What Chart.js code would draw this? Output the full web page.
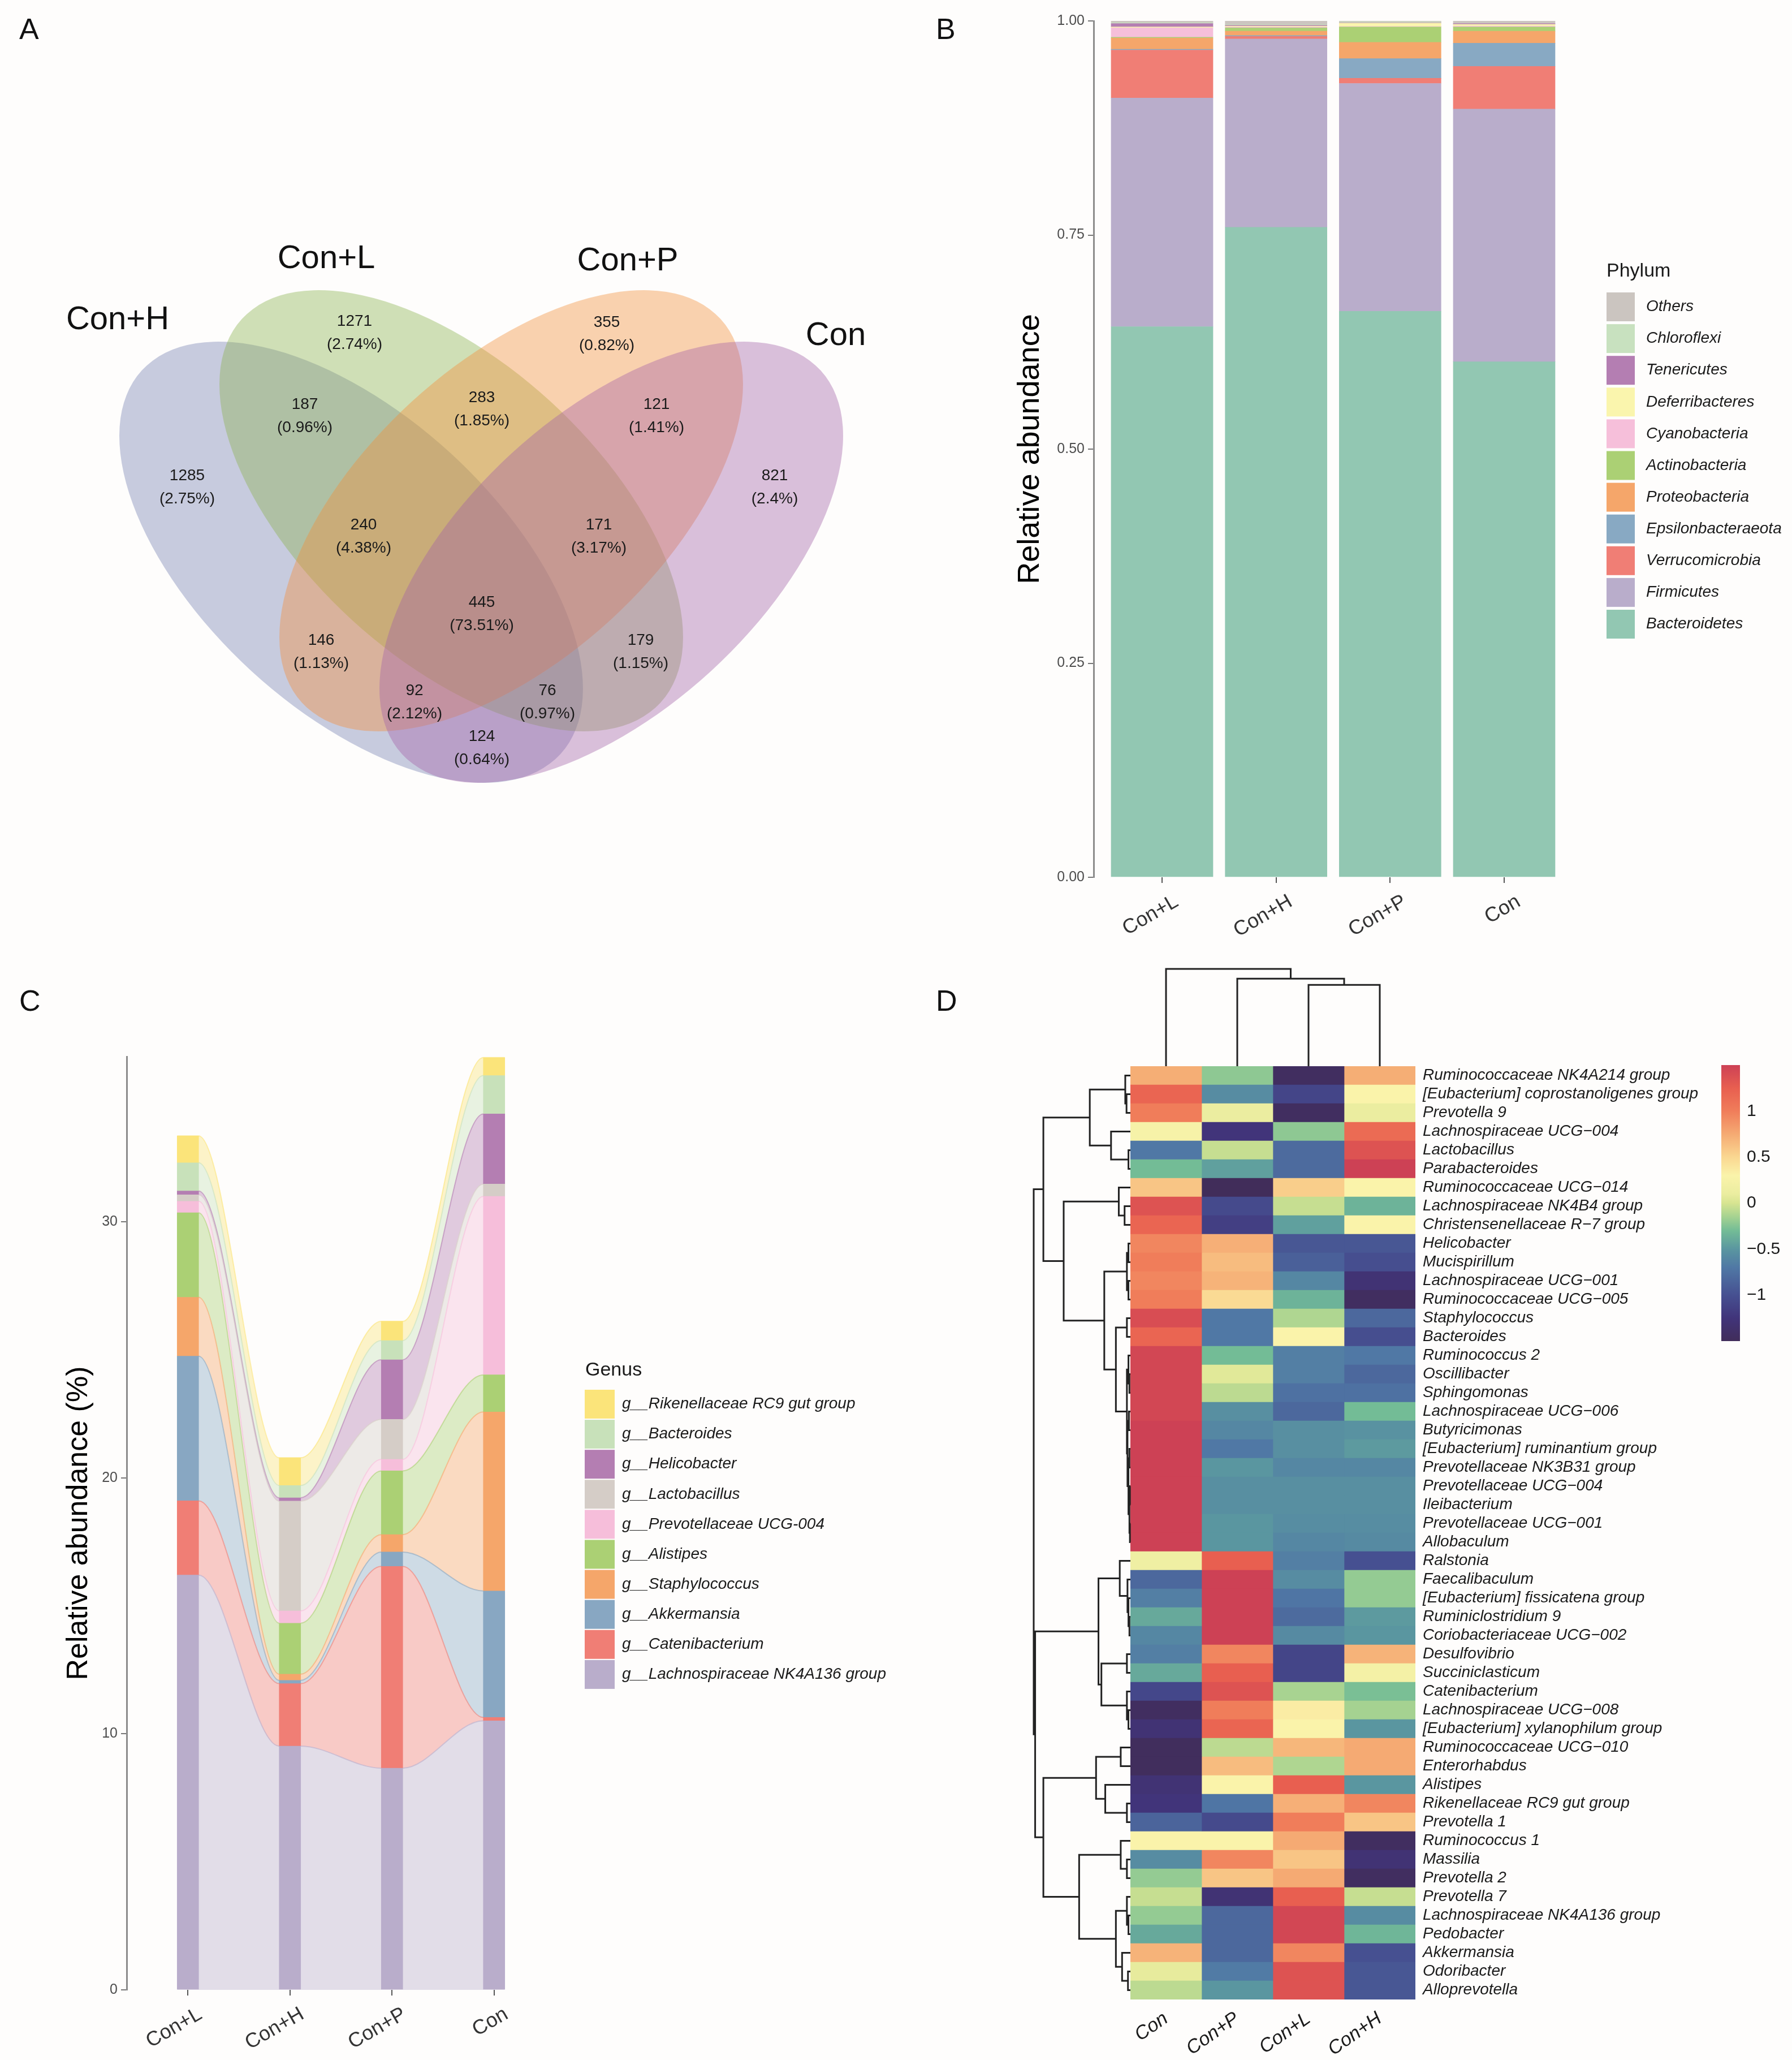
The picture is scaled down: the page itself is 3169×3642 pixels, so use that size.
<!DOCTYPE html>
<html>
<head>
<meta charset="utf-8">
<script src="https://cdn.jsdelivr.net/npm/chart.js@4.4.1/dist/chart.umd.min.js"></script>
<style>
  html, body { margin: 0; padding: 0; background: #fefdfc; }
  #page { position: relative; width: 3169px; height: 3642px; background: #fefdfc; font-family: "Liberation Sans", Arial, sans-serif; }
  canvas { position: absolute; }
  .tag { position: absolute; font-size: 52px; line-height: 52px; color: #111; }
</style>
</head>
<body>
<div id="page">
  <canvas id="venn" width="1600" height="1620" style="left:0;top:0"></canvas>
  <canvas id="phylum" width="1529" height="1700" style="left:1640px;top:0"></canvas>
  <canvas id="genus" width="1640" height="1902" style="left:0;top:1740px"></canvas>
  <canvas id="heat" width="1529" height="1942" style="left:1640px;top:1700px"></canvas>
  <div class="tag" style="left:34px;top:25px">A</div>
  <div class="tag" style="left:1655px;top:25px">B</div>
  <div class="tag" style="left:34px;top:1743px">C</div>
  <div class="tag" style="left:1655px;top:1743px">D</div>
</div>
<script>
const FONT = '"Liberation Sans", Arial, Helvetica, sans-serif';
Chart.defaults.font.family = FONT;
Chart.defaults.color = '#4d4d4d';

// ---------- A: Venn ----------
const vennSets = ['Con+H', 'Con+L', 'Con+P', 'Con'];
const regionCounts = [1285, 1271, 355, 821, 187, 283, 121, 240, 171, 445, 146, 179, 92, 76, 124];
const regionPct = ['2.75%', '2.74%', '0.82%', '2.4%', '0.96%', '1.85%', '1.41%', '4.38%', '3.17%',
                   '73.51%', '1.13%', '1.15%', '2.12%', '0.97%', '0.64%'];

// ---------- B: phylum composition (Con+L, Con+H, Con+P, Con) ----------
const groupsB = ['Con+L', 'Con+H', 'Con+P', 'Con'];
const phyla = ['Bacteroidetes', 'Firmicutes', 'Verrucomicrobia', 'Epsilonbacteraeota', 'Proteobacteria',
               'Actinobacteria', 'Cyanobacteria', 'Deferribacteres', 'Tenericutes', 'Chloroflexi', 'Others'];
const bacteroidetes   = [0.643, 0.759, 0.661, 0.602];
const firmicutes      = [0.267, 0.220, 0.266, 0.295];
const verrucomicrobia = [0.056, 0.003, 0.006, 0.050];
const epsilonbact     = [0.001, 0.001, 0.023, 0.027];
const proteobacteria  = [0.013, 0.005, 0.019, 0.014];
const actinobacteria  = [0.001, 0.004, 0.018, 0.005];
const cyanobacteria   = [0.011, 0.001, 0.0005, 0.001];
const deferribacteres = [0.001, 0.001, 0.004, 0.002];
const tenericutes     = [0.004, 0.001, 0.0005, 0.001];
const chloroflexi     = [0.001, 0.001, 0.001, 0.000];
const otherPhyla      = [0.002, 0.004, 0.001, 0.003];

// ---------- C: genus alluvial (%) ----------
const groupsC = ['Con+L', 'Con+H', 'Con+P', 'Con'];
const genera = ['g__Lachnospiraceae NK4A136 group', 'g__Catenibacterium', 'g__Akkermansia', 'g__Staphylococcus',
                'g__Alistipes', 'g__Prevotellaceae UCG-004', 'g__Lactobacillus', 'g__Helicobacter',
                'g__Bacteroides', 'g__Rikenellaceae RC9 gut group'];
const lachnoNK4A136  = [16.2, 9.52, 8.66, 10.51];
const catenibact     = [2.9, 2.44, 7.88, 0.13];
const akkermansia    = [5.65, 0.13, 0.56, 4.94];
const staphylococcus = [2.3, 0.24, 0.68, 6.99];
const alistipes      = [3.3, 1.99, 2.49, 1.45];
const prevUCG004     = [0.45, 0.48, 0.45, 6.97];
const lactobacillus  = [0.25, 4.29, 1.56, 0.48];
const helicobacter   = [0.15, 0.13, 2.33, 2.74];
const bacteroidesG   = [1.1, 0.48, 0.75, 1.5];
const rikenellaceae  = [1.05, 1.08, 0.75, 0.7];

// ---------- D: heatmap (row z-scores) ----------
const heatCols = ['Con', 'Con+P', 'Con+L', 'Con+H'];
const taxa = ['Ruminococcaceae NK4A214 group', '[Eubacterium] coprostanoligenes group', 'Prevotella 9',
  'Lachnospiraceae UCG\u2212004', 'Lactobacillus', 'Parabacteroides', 'Ruminococcaceae UCG\u2212014',
  'Lachnospiraceae NK4B4 group', 'Christensenellaceae R\u22127 group', 'Helicobacter', 'Mucispirillum',
  'Lachnospiraceae UCG\u2212001', 'Ruminococcaceae UCG\u2212005', 'Staphylococcus', 'Bacteroides',
  'Ruminococcus 2', 'Oscillibacter', 'Sphingomonas', 'Lachnospiraceae UCG\u2212006', 'Butyricimonas',
  '[Eubacterium] ruminantium group', 'Prevotellaceae NK3B31 group', 'Prevotellaceae UCG\u2212004',
  'Ileibacterium', 'Prevotellaceae UCG\u2212001', 'Allobaculum', 'Ralstonia', 'Faecalibaculum',
  '[Eubacterium] fissicatena group', 'Ruminiclostridium 9', 'Coriobacteriaceae UCG\u2212002', 'Desulfovibrio',
  'Succiniclasticum', 'Catenibacterium', 'Lachnospiraceae UCG\u2212008', '[Eubacterium] xylanophilum group',
  'Ruminococcaceae UCG\u2212010', 'Enterorhabdus', 'Alistipes', 'Rikenellaceae RC9 gut group', 'Prevotella 1',
  'Ruminococcus 1', 'Massilia', 'Prevotella 2', 'Prevotella 7', 'Lachnospiraceae NK4A136 group',
  'Pedobacter', 'Akkermansia', 'Odoribacter', 'Alloprevotella'];
const zCon  = [0.73, 1.2, 1.0, 0.25, -0.7, -0.3, 0.6, 1.35, 1.2, 0.95, 1.0, 0.95, 1.0, 1.4, 1.2, 1.45, 1.45, 1.45,
  1.45, 1.5, 1.5, 1.5, 1.5, 1.5, 1.5, 1.5, 0.15, -0.82, -0.65, -0.4, -0.6, -0.65, -0.4, -1.08, -1.45, -1.3, -1.48,
  -1.48, -1.3, -1.25, -0.85, 0.3, -0.57, -0.2, -0.05, -0.2, -0.4, 0.7, 0.08, -0.08];
const zConP = [-0.22, -0.57, 0.1, -1.25, -0.05, -0.45, -1.5, -1.05, -1.15, 0.72, 0.65, 0.7, 0.48, -0.7, -0.7, -0.3,
  0.05, -0.08, -0.55, -0.6, -0.7, -0.5, -0.55, -0.55, -0.5, -0.5, 1.25, 1.5, 1.5, 1.5, 1.5, 0.95, 1.25, 1.35, 1.0,
  1.2, -0.08, 0.65, 0.3, -0.72, -1.05, 0.3, 0.95, 0.6, -1.3, -0.82, -0.82, -0.82, -0.68, -0.5];
const zConL = [-1.45, -1.1, -1.45, -0.22, -0.8, -0.8, 0.55, -0.05, -0.45, -0.95, -0.88, -0.6, -0.35, -0.12, 0.3,
  -0.65, -0.65, -0.75, -0.82, -0.55, -0.55, -0.6, -0.55, -0.55, -0.56, -0.6, -0.65, -0.57, -0.72, -0.8, -0.58,
  -1.1, -1.1, -0.14, 0.35, 0.3, 0.68, -0.12, 1.25, 0.72, 1.0, 0.75, 0.6, 0.75, 1.25, 1.45, 1.45, 0.95, 1.35, 1.35];
const zConH = [0.73, 0.3, 0.1, 1.15, 1.35, 1.5, 0.3, -0.35, 0.3, -0.95, -1.02, -1.3, -1.45, -0.82, -1.02, -0.7,
  -0.82, -0.75, -0.3, -0.53, -0.48, -0.6, -0.55, -0.55, -0.56, -0.58, -1.0, -0.2, -0.2, -0.48, -0.5, 0.7, 0.22,
  -0.28, -0.15, -0.5, 0.75, 0.75, -0.5, 0.95, 0.6, -1.45, -1.3, -1.45, -0.05, -0.57, -0.33, -1.0, -0.95, -0.95];
// dendrograms: [height, left, right], leaves are row / column indices
const rowTree = [1.0,
  [0.9,
    [0.42, [0.053, 0, [0.04, 1, 2]], [0.2, 3, [0.02, 4, 5]]],
    [0.69, [0.12, 6, [0.06, 7, 8]],
      [0.27, [0.036, [0.02, 9, 10], [0.02, 11, 12]],
        [0.15, [0.036, 13, 14],
          [0.036, [0.02, 15, [0.01, 16, 17]],
            [0.03, [0.015, 18, 19], [0.02, [0.01, 20, 21], [0.01, [0.005, 22, 23], [0.005, 24, 25]]]]]]]]],
  [0.985,
    [0.33, [0.11, 26, [0.03, 27, [0.02, 28, [0.01, 29, 30]]]], [0.3, [0.036, 31, 32], [0.036, 33, [0.02, 34, 35]]]],
    [0.9, [0.355, [0.1, 36, 37], [0.26, 38, [0.036, 39, 40]]],
      [0.53, [0.1, 41, [0.036, 42, 43]], [0.15, [0.036, 44, [0.02, 45, 46]], [0.086, 47, [0.025, 48, 49]]]]]]];
const colTree = [1.0, 0, [0.9, 1, [0.836, 2, 3]]];
const colorbarTicks = [1, 0.5, 0, -0.5, -1];

// ---------- styling ----------
const vennFill = ['rgba(118,128,178,0.4)', 'rgba(138,178,78,0.4)', 'rgba(243,143,58,0.4)', 'rgba(163,98,168,0.4)'];
const ellipseGeom = [[621, 994, 502, 261, 42.5], [798, 903, 502, 261, 42.5],
                     [904, 903, 502, 261, -42.5], [1081, 994, 502, 261, -42.5]];
const setLabelXY = [[208, 566], [577, 458], [1110, 462], [1478, 594]];
const regionXY = [[331, 861], [627, 588], [1073, 590], [1370, 861], [539, 735], [852, 723], [1161, 735],
                  [643, 948], [1059, 948], [852, 1085], [568, 1152], [1133, 1152], [733, 1241], [968, 1241], [852, 1322]];
const phylumColors = ['#92c7b2', '#b9adcb', '#f07e75', '#88a9c3', '#f5a66a', '#abd074', '#f6bfda',
                      '#faf5ad', '#b47eb2', '#c8e1bf', '#cbc5c0'];
const genusRGB = [[185, 173, 203], [240, 126, 117], [136, 167, 194], [245, 166, 106], [171, 208, 116],
                  [246, 190, 218], [213, 205, 199], [180, 126, 178], [200, 225, 186], [251, 228, 122]];
const zStops = [[1.5, 205, 65, 85], [1.25, 232, 95, 80], [1.0, 240, 125, 90], [0.75, 245, 170, 115],
  [0.5, 250, 215, 145], [0.3, 250, 243, 170], [0.1, 235, 237, 160], [0.0, 215, 228, 145], [-0.15, 165, 210, 145],
  [-0.3, 115, 188, 150], [-0.5, 90, 150, 160], [-0.7, 80, 120, 165], [-1.0, 70, 80, 145], [-1.25, 65, 52, 122],
  [-1.5, 65, 45, 90]];

function zColor(v) {
  v = Math.max(-1.5, Math.min(1.5, v));
  for (let i = 0; i < zStops.length - 1; i++) {
    const a = zStops[i], b = zStops[i + 1];
    if (v <= a[0] && v >= b[0]) {
      const t = (a[0] - v) / (a[0] - b[0]);
      const c = [1, 2, 3].map(k => Math.round(a[k] + (b[k] - a[k]) * t));
      return `rgb(${c[0]},${c[1]},${c[2]})`;
    }
  }
  return 'rgb(65,45,90)';
}
const rgba = (c, a) => `rgba(${c[0]},${c[1]},${c[2]},${a})`;

function legendPlugin(o) {
  return {
    id: o.id,
    afterDraw(chart) {
      const ctx = chart.ctx;
      ctx.save();
      ctx.textBaseline = 'middle';
      ctx.textAlign = 'left';
      ctx.fillStyle = '#1a1a1a';
      ctx.font = `34px ${FONT}`;
      ctx.fillText(o.title, o.tx, o.ty);
      ctx.font = `italic 28px ${FONT}`;
      o.names.forEach((n, i) => {
        const y = o.ky + i * o.pitch;
        ctx.fillStyle = o.colors[i];
        ctx.fillRect(o.kx, y, o.kw, o.kh);
        ctx.fillStyle = '#1a1a1a';
        ctx.fillText(n, o.lx, y + o.kh / 2);
      });
      ctx.restore();
    }
  };
}

const common = { responsive: false, animation: false, devicePixelRatio: 1 };
const noPlugins = { legend: { display: false }, tooltip: { enabled: false } };

// ---------- A ----------
const vennPlugin = {
  id: 'venn',
  beforeDatasetsDraw(chart) {
    const { ctx, scales: { x, y } } = chart;
    const k = x.getPixelForValue(1) - x.getPixelForValue(0);
    ctx.save();
    ellipseGeom.forEach((g, i) => {
      ctx.beginPath();
      ctx.ellipse(x.getPixelForValue(g[0]), y.getPixelForValue(g[1]), g[2] * k, g[3] * k, g[4] * Math.PI / 180, 0, 2 * Math.PI);
      ctx.fillStyle = vennFill[i];
      ctx.fill();
    });
    ctx.restore();
  },
  afterDatasetsDraw(chart) {
    const { ctx, scales: { x, y } } = chart;
    ctx.save();
    ctx.textAlign = 'center';
    ctx.textBaseline = 'middle';
    ctx.fillStyle = '#111';
    ctx.font = `58px ${FONT}`;
    vennSets.forEach((s, i) => ctx.fillText(s, x.getPixelForValue(setLabelXY[i][0]), y.getPixelForValue(setLabelXY[i][1])));
    ctx.font = `28px ${FONT}`;
    ctx.fillStyle = '#1a1a1a';
    chart.getDatasetMeta(0).data.forEach((pt, i) => {
      ctx.fillText(String(regionCounts[i]), pt.x, pt.y - 20);
      ctx.fillText('(' + regionPct[i] + ')', pt.x, pt.y + 21);
    });
    ctx.restore();
  }
};
new Chart(document.getElementById('venn'), {
  type: 'scatter',
  data: { datasets: [{ data: regionXY.map(p => ({ x: p[0], y: p[1] })), pointRadius: 0 }] },
  options: {
    ...common, layout: { padding: 0 }, plugins: noPlugins,
    scales: {
      x: { type: 'linear', display: false, min: 0, max: 1600 },
      y: { type: 'linear', display: false, min: 0, max: 1620, reverse: true }
    }
  },
  plugins: [vennPlugin]
});

// ---------- B ----------
const phylumSeries = [bacteroidetes, firmicutes, verrucomicrobia, epsilonbact, proteobacteria, actinobacteria,
                      cyanobacteria, deferribacteres, tenericutes, chloroflexi, otherPhyla];
new Chart(document.getElementById('phylum'), {
  type: 'bar',
  data: {
    datasets: phyla.map((p, i) => ({
      label: p,
      data: phylumSeries[i].map((v, j) => ({ x: j + 1, y: v })),
      backgroundColor: phylumColors[i],
      borderWidth: 0,
      barThickness: 180
    }))
  },
  options: {
    ...common,
    layout: { padding: { left: 0, right: 388, top: 37, bottom: 0 } },
    plugins: noPlugins,
    scales: {
      x: {
        type: 'linear', min: 0.4, max: 4.6, stacked: true, offset: false,
        afterBuildTicks: s => { s.ticks = groupsB.map((g, i) => ({ value: i + 1 })); },
        afterFit: s => { s.height = 149; },
        ticks: { autoSkip: false, includeBounds: false, minRotation: 30, maxRotation: 30, padding: 12, labelOffset: 26,
                 font: { size: 36 }, color: '#333', callback: v => groupsB[v - 1] },
        grid: { offset: false, drawOnChartArea: false, drawTicks: true, tickLength: 10, color: '#555', lineWidth: 2 },
        border: { display: false }
      },
      y: {
        min: 0, max: 1, stacked: true,
        afterFit: s => { s.width = 294; },
        ticks: { stepSize: 0.25, includeBounds: false, padding: 6, font: { size: 25 }, color: '#4d4d4d',
                 callback: v => v.toFixed(2) },
        grid: { drawOnChartArea: false, drawTicks: true, tickLength: 10, color: '#777', lineWidth: 2 },
        border: { display: true, color: '#8c8c8c', width: 3 },
        title: { display: true, text: 'Relative abundance', color: '#000', font: { size: 54 }, padding: { top: 150, bottom: 0 } }
      }
    }
  },
  plugins: [legendPlugin({
    id: 'legB', title: 'Phylum', names: phyla.slice().reverse(), colors: phylumColors.slice().reverse(),
    tx: 1201, ty: 480, kx: 1201, ky: 517, kw: 50, kh: 51, pitch: 56.1, lx: 1271
  })]
});

// ---------- C ----------
const genusSeries = [lachnoNK4A136, catenibact, akkermansia, staphylococcus, alistipes, prevUCG004,
                     lactobacillus, helicobacter, bacteroidesG, rikenellaceae];
const halfBar = 0.105;
const flowSets = genera.map((g, i) => ({
  type: 'line', label: g, stack: 'flow', order: 2,
  data: genusSeries[i].flatMap((v, j) => [{ x: j + 1 - halfBar, y: v }, { x: j + 1 + halfBar, y: v }]),
  fill: i === 0 ? 'origin' : '-1',
  backgroundColor: rgba(genusRGB[i], 0.4),
  borderColor: rgba(genusRGB[i], 0.6),
  borderWidth: 2, pointRadius: 0, cubicInterpolationMode: 'monotone'
}));
const barSets = genera.map((g, i) => ({
  type: 'bar', label: g, stack: 'bars', order: 1,
  data: genusSeries[i].map((v, j) => ({ x: j + 1, y: v })),
  backgroundColor: rgba(genusRGB[i], 1), borderWidth: 0, barThickness: 38
}));
new Chart(document.getElementById('genus'), {
  type: 'bar',
  data: { datasets: [...flowSets, ...barSets] },
  options: {
    ...common,
    layout: { padding: { left: 0, right: 658, top: 128, bottom: 0 } },
    plugins: noPlugins,
    scales: {
      x: {
        type: 'linear', min: 0.4, max: 4.6, stacked: true, offset: false,
        afterBuildTicks: s => { s.ticks = groupsC.map((g, i) => ({ value: i + 1 })); },
        afterFit: s => { s.height = 124; },
        ticks: { autoSkip: false, includeBounds: false, minRotation: 30, maxRotation: 30, padding: 12, labelOffset: 22,
                 font: { size: 36 }, color: '#333', callback: v => groupsC[v - 1] },
        grid: { offset: false, drawOnChartArea: false, drawTicks: true, tickLength: 10, color: '#555', lineWidth: 2 },
        border: { display: false }
      },
      y: {
        min: 0, max: 36.45, stacked: true,
        afterFit: s => { s.width = 224; },
        ticks: { stepSize: 10, includeBounds: false, padding: 6, font: { size: 25 }, color: '#4d4d4d' },
        grid: { drawOnChartArea: false, drawTicks: true, tickLength: 10, color: '#777', lineWidth: 2 },
        border: { display: true, color: '#8c8c8c', width: 3 },
        title: { display: true, text: 'Relative abundance (%)', color: '#000', font: { size: 52 }, padding: { top: 108, bottom: 0 } }
      }
    }
  },
  plugins: [legendPlugin({
    id: 'legC', title: 'Genus', names: genera.slice().reverse(),
    colors: genusRGB.slice().reverse().map(c => rgba(c, 1)),
    tx: 1035, ty: 683, kx: 1034, ky: 717, kw: 53, kh: 51, pitch: 53.1, lx: 1100
  })]
});

// ---------- D ----------
const heatSeries = [zCon, zConP, zConL, zConH];
function drawTree(ctx, node, posPx, hPx, rows) {
  if (typeof node === 'number') return { p: posPx(node), h: hPx(0) };
  const a = drawTree(ctx, node[1], posPx, hPx, rows);
  const b = drawTree(ctx, node[2], posPx, hPx, rows);
  const h = hPx(node[0]);
  if (rows) {
    ctx.moveTo(a.h, a.p); ctx.lineTo(h, a.p); ctx.lineTo(h, b.p); ctx.lineTo(b.h, b.p);
  } else {
    ctx.moveTo(a.p, a.h); ctx.lineTo(a.p, h); ctx.lineTo(b.p, h); ctx.lineTo(b.p, b.h);
  }
  return { p: (a.p + b.p) / 2, h };
}
const heatPlugin = {
  id: 'heatExtras',
  afterDraw(chart) {
    const { ctx, chartArea, scales: { x, y } } = chart;
    ctx.save();
    ctx.strokeStyle = '#222';
    ctx.lineWidth = 3;
    ctx.beginPath();
    drawTree(ctx, rowTree, i => y.getPixelForValue(i), h => chartArea.left - h * 171, true);
    drawTree(ctx, colTree, i => x.getPixelForValue(i + 0.5), h => chartArea.top - h * 172, false);
    ctx.stroke();
    // colour key
    const cx0 = 1404, cw = 33, top = 183, bot = 671;
    const grad = ctx.createLinearGradient(0, top, 0, bot);
    zStops.forEach(s => grad.addColorStop((1.5 - s[0]) / 3, `rgb(${s[1]},${s[2]},${s[3]})`));
    ctx.fillStyle = grad;
    ctx.fillRect(cx0, top, cw, bot - top);
    ctx.fillStyle = '#1a1a1a';
    ctx.font = `30px ${FONT}`;
    ctx.textAlign = 'left';
    ctx.textBaseline = 'middle';
    colorbarTicks.forEach(v => {
      const py = top + (1.5 - v) / 3 * (bot - top);
      ctx.fillText(String(v).replace('-', '\u2212'), cx0 + cw + 12, py);
    });
    ctx.restore();
  }
};
new Chart(document.getElementById('heat'), {
  type: 'bar',
  data: {
    labels: taxa,
    datasets: heatCols.map((c, k) => ({
      label: c,
      data: taxa.map(() => 1),
      backgroundColor: heatSeries[k].map(zColor),
      borderWidth: 0, barPercentage: 1, categoryPercentage: 1
    }))
  },
  options: {
    ...common,
    indexAxis: 'y',
    layout: { padding: { left: 359, right: 0, top: 185, bottom: 0 } },
    plugins: noPlugins,
    scales: {
      x: {
        type: 'linear', min: 0, max: 4, stacked: true,
        afterBuildTicks: s => { s.ticks = heatCols.map((c, i) => ({ value: i + 0.5 })); },
        afterFit: s => { s.height = 107; },
        ticks: { autoSkip: false, includeBounds: false, minRotation: 35, maxRotation: 35, padding: 6,
                 font: { size: 34, style: 'italic' }, color: '#1a1a1a', callback: (v, i) => heatCols[i] },
        grid: { display: false },
        border: { display: false }
      },
      y: {
        type: 'category', position: 'right', stacked: true, offset: true,
        afterFit: s => { s.width = 666; },
        ticks: { autoSkip: false, padding: 5, font: { size: 28, style: 'italic' }, color: '#1a1a1a' },
        grid: { display: false },
        border: { display: false }
      }
    }
  },
  plugins: [heatPlugin]
});
</script>
</body>
</html>
